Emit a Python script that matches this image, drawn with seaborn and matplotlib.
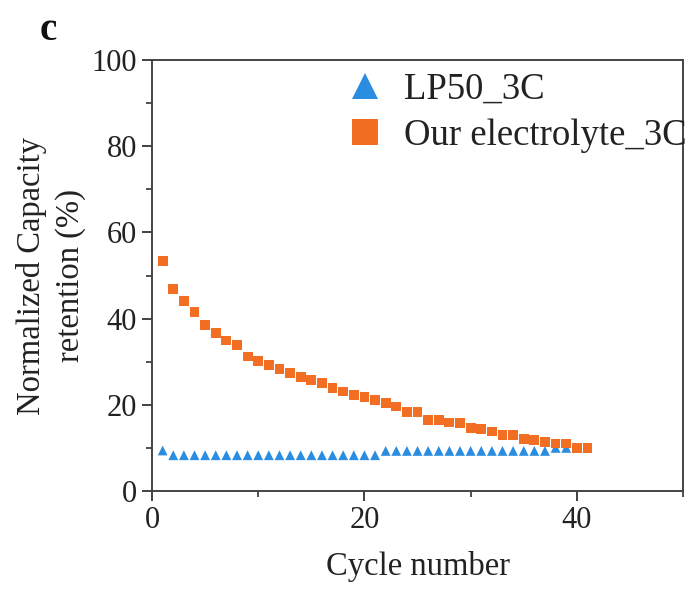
import matplotlib
matplotlib.use("Agg")
import matplotlib.pyplot as plt
import seaborn as sns
import pandas as pd
from matplotlib.ticker import MultipleLocator

cycles = list(range(1, 42))
lp50 = [9.4] + [8.3] * 20 + [9.3] * 16 + [10.0] * 4
ours = [53.4, 46.9, 44.1, 41.5, 38.5, 36.7, 34.9, 33.8, 31.2, 30.2,
        29.3, 28.4, 27.4, 26.5, 25.8, 25.0, 23.9, 23.1, 22.2, 21.9,
        21.1, 20.4, 19.6, 18.4, 18.4, 16.5, 16.5, 15.9, 15.7, 14.6,
        14.4, 13.8, 13.0, 12.9, 12.0, 11.9, 11.3, 11.0, 11.0, 10.0, 10.0]
labels = ["LP50_3C", "Our electrolyte_3C"]
xticks = [0, 20, 40]
yticks = [0, 20, 40, 60, 80, 100]

sns.set_theme(style="ticks")
plt.rcParams['font.family'] = ['Liberation Serif', 'DejaVu Serif']

df = pd.DataFrame({
    "cycle": cycles * 2,
    "value": lp50 + ours,
    "series": [labels[0]] * len(cycles) + [labels[1]] * len(cycles),
})

fig = plt.figure(figsize=(6.87, 5.90), dpi=100)
ax = fig.add_axes([0.2213, 0.1678, 0.7729, 0.7305])

palette = {labels[0]: "#2a8de0", labels[1]: "#f26e22"}
markers = {labels[0]: "^", labels[1]: "s"}
sns.scatterplot(data=df, x="cycle", y="value", hue="series", style="series",
                palette=palette, markers=markers, s=50, linewidth=0,
                ax=ax, zorder=3)

ax.set_xlim(0, 50)
ax.set_ylim(0, 100)
ax.set_xticks(xticks)
ax.set_yticks(yticks)
ax.xaxis.set_minor_locator(MultipleLocator(10))
ax.yaxis.set_minor_locator(MultipleLocator(10))
ax.tick_params(axis="both", which="major", direction="out", length=7, width=1.3,
               labelsize=22, color="#333333", labelcolor="#222222", pad=4)
ax.tick_params(axis="both", which="minor", direction="out", length=4, width=1.2,
               color="#333333")
for sp in ax.spines.values():
    sp.set_linewidth(1.4)
    sp.set_color("#444444")
    sp.set_visible(True)

ax.set_xlabel("Cycle number", fontsize=23.5, color="#222222", labelpad=11)
ax.set_ylabel("Normalized Capacity\nretention (%)", fontsize=23.5,
              color="#222222", labelpad=4, linespacing=1.35)

leg = ax.legend(loc="upper left", bbox_to_anchor=(0.339, 1.005), frameon=False,
                fontsize=26.5, markerscale=2.6, handletextpad=0.55,
                labelspacing=0.3, borderaxespad=0, handlelength=1.0)
for t in leg.get_texts():
    t.set_color("#222222")

fig.text(40 / 687, 1 - 30 / 590, "c", fontsize=28, fontweight="bold",
         ha="left", va="center", color="#111111")

fig.savefig("out.png", dpi=100)
